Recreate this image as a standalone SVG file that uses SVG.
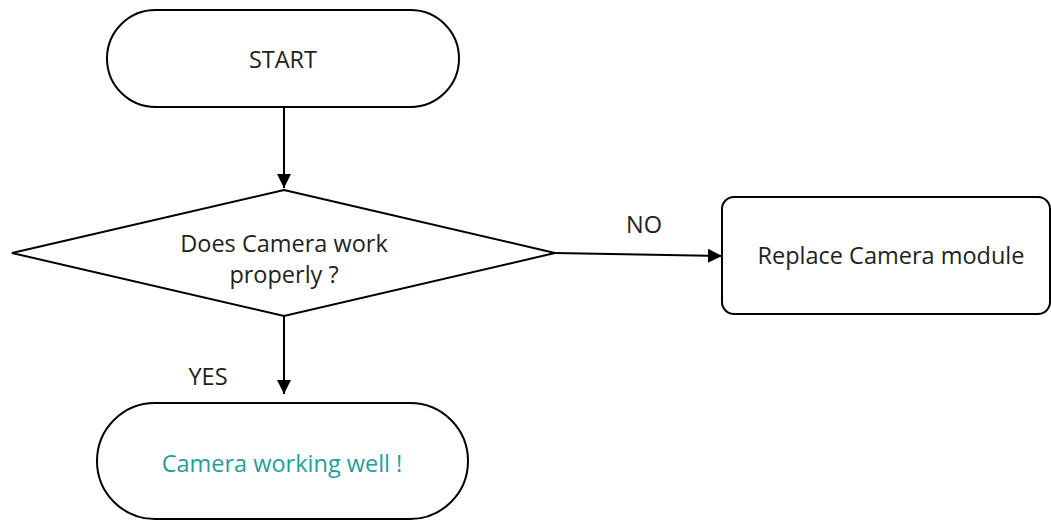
<svg xmlns="http://www.w3.org/2000/svg" width="1051" height="520" viewBox="0 0 1051 520">
<style>
.shape{fill:#fff;stroke:#000;stroke-width:2}
.t{font-family:"Open Sans","Noto Sans",sans-serif;font-size:23.5px;fill:#231f20;text-anchor:middle}
.teal{fill:#1f9f9c}
.conn{stroke:#000;stroke-width:2;fill:none}
</style>
<defs>
<marker id="ah" viewBox="0 0 10 10" refX="10" refY="5" markerWidth="15" markerHeight="14" markerUnits="userSpaceOnUse" orient="auto">
<path d="M0,0 L10,5 L0,10 z" fill="#000"/>
</marker>
</defs>
<rect width="1051" height="520" fill="#fff"/>
<g id="connectors">
<line class="conn" x1="284" y1="107" x2="284" y2="188" marker-end="url(#ah)"/>
<line class="conn" x1="555" y1="253" x2="722" y2="256" marker-end="url(#ah)"/>
<line class="conn" x1="284" y1="316" x2="284" y2="394" marker-end="url(#ah)"/>
<text class="t" x="644" y="233">NO</text>
<text class="t" x="208" y="385">YES</text>
</g>
<g id="start">
<rect class="shape" x="107" y="10" width="352" height="97" rx="48.5"/>
<text class="t" x="283" y="68">START</text>
</g>
<g id="decision">
<polygon class="shape" points="284,190 555,253 284,316 12,253"/>
<text class="t" x="284" y="252">Does Camera work</text>
<text class="t" x="284" y="283">properly ?</text>
</g>
<g id="replace">
<rect class="shape" x="722" y="197" width="328" height="117" rx="12"/>
<text class="t" x="891" y="264">Replace Camera module</text>
</g>
<g id="ok">
<rect class="shape" x="97" y="403" width="371" height="116" rx="58"/>
<text class="t teal" x="282" y="472">Camera working well !</text>
</g>
</svg>
